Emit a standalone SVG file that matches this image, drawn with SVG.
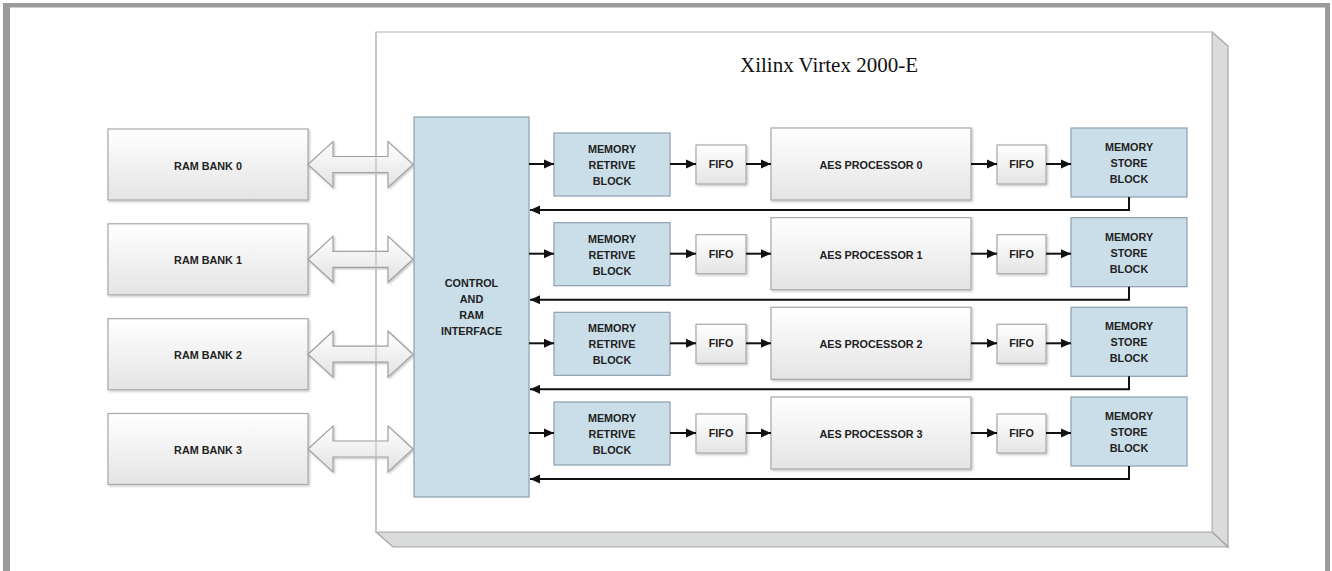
<svg xmlns="http://www.w3.org/2000/svg" width="1332" height="571" viewBox="0 0 1332 571">
  <style>
    .lbl { font-family: "Liberation Sans", Arial, sans-serif; font-weight: bold; font-size: 10.8px; fill: #222; text-anchor: middle; }
    .title { font-family: "Liberation Serif", "Times New Roman", serif; font-size: 21px; fill: #111; }
    .gbox { fill: url(#gGray); stroke: #a8a8a8; stroke-width: 1.2; filter: url(#sh); }
    .bbox { fill: #cadeea; stroke: #8a9eae; stroke-width: 1.2; }
    .darrow { fill: url(#gArrow); stroke: #a0a0a0; stroke-width: 1.2; filter: url(#sh); }
    .conn { stroke: #111; stroke-width: 2; fill: none; marker-end: url(#ah); }
    .frame { fill: #9b9b9b; }
    .side { fill: #dadbdb; stroke: #a3a3a3; stroke-width: 1.2; }
  </style>
  <defs>
    <linearGradient id="gGray" x1="0" y1="0" x2="0" y2="1">
      <stop offset="0" stop-color="#ffffff"/>
      <stop offset="1" stop-color="#e4e4e4"/>
    </linearGradient>
    <linearGradient id="gArrow" x1="0" y1="0" x2="0" y2="1">
      <stop offset="0" stop-color="#ffffff"/>
      <stop offset="1" stop-color="#e2e2e2"/>
    </linearGradient>
    <filter id="sh" x="-10%" y="-10%" width="130%" height="130%">
      <feDropShadow dx="1.2" dy="1.2" stdDeviation="0.8" flood-color="#000" flood-opacity="0.25"/>
    </filter>
    <marker id="ah" viewBox="0 0 10 10" refX="10" refY="5" markerWidth="10" markerHeight="10" markerUnits="userSpaceOnUse" orient="auto">
      <path d="M0,0.5 L10,5 L0,9.5 Z" fill="#111"/>
    </marker>
  </defs>

  <rect width="1332" height="571" fill="#ffffff"/>

  <!-- outer frame -->
  <g id="frame">
    <rect class="frame" x="3" y="3" width="1327" height="4.5"/>
    <rect class="frame" x="3" y="3" width="7" height="568"/>
    <rect class="frame" x="1325" y="3" width="5" height="568"/>
  </g>

  <!-- FPGA panel -->
  <g id="fpga">
    <polygon class="side" points="1212,32 1228,46 1228,547 1212,532"/>
    <polygon class="side" points="376,532 1212,532 1228,547 393,547"/>
    <rect x="376" y="32" width="836" height="500" fill="#ffffff" stroke="#bdbdbd" stroke-width="1.2"/>
    <text class="title" x="740" y="72">Xilinx Virtex 2000-E</text>
  </g>

  <!-- RAM banks -->
  <g id="ram0"><rect class="gbox" x="108" y="129" width="200" height="71"/><text class="lbl" x="208" y="169.5">RAM BANK 0</text></g>
  <g id="ram1"><rect class="gbox" x="108" y="223.8" width="200" height="71"/><text class="lbl" x="208" y="264.3">RAM BANK 1</text></g>
  <g id="ram2"><rect class="gbox" x="108" y="318.7" width="200" height="71"/><text class="lbl" x="208" y="359.2">RAM BANK 2</text></g>
  <g id="ram3"><rect class="gbox" x="108" y="413.5" width="200" height="71"/><text class="lbl" x="208" y="454">RAM BANK 3</text></g>

  <!-- double arrows (bus) -->
  <g id="buses">
    <path class="darrow" d="M308,164.5 L333,141.5 L333,156.5 L388,156.5 L388,141.5 L413,164.5 L388,187.5 L388,172.5 L333,172.5 L333,187.5 Z"/>
    <path class="darrow" d="M308,259.3 L333,236.3 L333,251.3 L388,251.3 L388,236.3 L413,259.3 L388,282.3 L388,267.3 L333,267.3 L333,282.3 Z"/>
    <path class="darrow" d="M308,354.2 L333,331.2 L333,346.2 L388,346.2 L388,331.2 L413,354.2 L388,377.2 L388,362.2 L333,362.2 L333,377.2 Z"/>
    <path class="darrow" d="M308,449 L333,426 L333,441 L388,441 L388,426 L413,449 L388,472 L388,457 L333,457 L333,472 Z"/>
    <line x1="376" y1="32" x2="376" y2="532" stroke="#bdbdbd" stroke-width="1.2"/>
  </g>

  <!-- control -->
  <g id="control">
    <rect class="bbox" x="414" y="117" width="115" height="380"/>
    <text class="lbl" x="471.5" y="287">CONTROL</text>
    <text class="lbl" x="471.5" y="303">AND</text>
    <text class="lbl" x="471.5" y="319">RAM</text>
    <text class="lbl" x="471.5" y="335">INTERFACE</text>
  </g>

  <!-- row 0 -->
  <g id="retrieve0"><rect class="bbox" x="554" y="133" width="116" height="63"/><text class="lbl" x="612" y="153">MEMORY</text><text class="lbl" x="612" y="169">RETRIVE</text><text class="lbl" x="612" y="185">BLOCK</text></g>
  <g id="fifoA0"><rect class="gbox" x="696" y="145" width="50" height="39"/><text class="lbl" x="721" y="168">FIFO</text></g>
  <g id="aes0"><rect class="gbox" x="771" y="128" width="200" height="72"/><text class="lbl" x="871" y="169">AES PROCESSOR 0</text></g>
  <g id="fifoB0"><rect class="gbox" x="997" y="145" width="49" height="39"/><text class="lbl" x="1021.5" y="168">FIFO</text></g>
  <g id="store0"><rect class="bbox" x="1071" y="128" width="116" height="69"/><text class="lbl" x="1129" y="151">MEMORY</text><text class="lbl" x="1129" y="167">STORE</text><text class="lbl" x="1129" y="183">BLOCK</text></g>

  <!-- row 1 -->
  <g id="retrieve1"><rect class="bbox" x="554" y="222.7" width="116" height="63"/><text class="lbl" x="612" y="242.7">MEMORY</text><text class="lbl" x="612" y="258.7">RETRIVE</text><text class="lbl" x="612" y="274.7">BLOCK</text></g>
  <g id="fifoA1"><rect class="gbox" x="696" y="234.7" width="50" height="39"/><text class="lbl" x="721" y="257.7">FIFO</text></g>
  <g id="aes1"><rect class="gbox" x="771" y="217.7" width="200" height="72"/><text class="lbl" x="871" y="258.7">AES PROCESSOR 1</text></g>
  <g id="fifoB1"><rect class="gbox" x="997" y="234.7" width="49" height="39"/><text class="lbl" x="1021.5" y="257.7">FIFO</text></g>
  <g id="store1"><rect class="bbox" x="1071" y="217.7" width="116" height="69"/><text class="lbl" x="1129" y="240.7">MEMORY</text><text class="lbl" x="1129" y="256.7">STORE</text><text class="lbl" x="1129" y="272.7">BLOCK</text></g>

  <!-- row 2 -->
  <g id="retrieve2"><rect class="bbox" x="554" y="312.3" width="116" height="63"/><text class="lbl" x="612" y="332.3">MEMORY</text><text class="lbl" x="612" y="348.3">RETRIVE</text><text class="lbl" x="612" y="364.3">BLOCK</text></g>
  <g id="fifoA2"><rect class="gbox" x="696" y="324.3" width="50" height="39"/><text class="lbl" x="721" y="347.3">FIFO</text></g>
  <g id="aes2"><rect class="gbox" x="771" y="307.3" width="200" height="72"/><text class="lbl" x="871" y="348.3">AES PROCESSOR 2</text></g>
  <g id="fifoB2"><rect class="gbox" x="997" y="324.3" width="49" height="39"/><text class="lbl" x="1021.5" y="347.3">FIFO</text></g>
  <g id="store2"><rect class="bbox" x="1071" y="307.3" width="116" height="69"/><text class="lbl" x="1129" y="330.3">MEMORY</text><text class="lbl" x="1129" y="346.3">STORE</text><text class="lbl" x="1129" y="362.3">BLOCK</text></g>

  <!-- row 3 -->
  <g id="retrieve3"><rect class="bbox" x="554" y="402" width="116" height="63"/><text class="lbl" x="612" y="422">MEMORY</text><text class="lbl" x="612" y="438">RETRIVE</text><text class="lbl" x="612" y="454">BLOCK</text></g>
  <g id="fifoA3"><rect class="gbox" x="696" y="414" width="50" height="39"/><text class="lbl" x="721" y="437">FIFO</text></g>
  <g id="aes3"><rect class="gbox" x="771" y="397" width="200" height="72"/><text class="lbl" x="871" y="438">AES PROCESSOR 3</text></g>
  <g id="fifoB3"><rect class="gbox" x="997" y="414" width="49" height="39"/><text class="lbl" x="1021.5" y="437">FIFO</text></g>
  <g id="store3"><rect class="bbox" x="1071" y="397" width="116" height="69"/><text class="lbl" x="1129" y="420">MEMORY</text><text class="lbl" x="1129" y="436">STORE</text><text class="lbl" x="1129" y="452">BLOCK</text></g>

  <!-- connectors -->
  <g id="connectors">
    <path class="conn" d="M529,164 H554"/>
    <path class="conn" d="M670,164 H696"/>
    <path class="conn" d="M746,164 H771"/>
    <path class="conn" d="M971,164 H997"/>
    <path class="conn" d="M1046,164 H1071"/>
    <path class="conn" d="M1129,197 V210 H530"/>

    <path class="conn" d="M529,253.7 H554"/>
    <path class="conn" d="M670,253.7 H696"/>
    <path class="conn" d="M746,253.7 H771"/>
    <path class="conn" d="M971,253.7 H997"/>
    <path class="conn" d="M1046,253.7 H1071"/>
    <path class="conn" d="M1129,286.7 V299.7 H530"/>

    <path class="conn" d="M529,343.3 H554"/>
    <path class="conn" d="M670,343.3 H696"/>
    <path class="conn" d="M746,343.3 H771"/>
    <path class="conn" d="M971,343.3 H997"/>
    <path class="conn" d="M1046,343.3 H1071"/>
    <path class="conn" d="M1129,376.3 V389.3 H530"/>

    <path class="conn" d="M529,433 H554"/>
    <path class="conn" d="M670,433 H696"/>
    <path class="conn" d="M746,433 H771"/>
    <path class="conn" d="M971,433 H997"/>
    <path class="conn" d="M1046,433 H1071"/>
    <path class="conn" d="M1129,466 V479 H530"/>
  </g>
</svg>
